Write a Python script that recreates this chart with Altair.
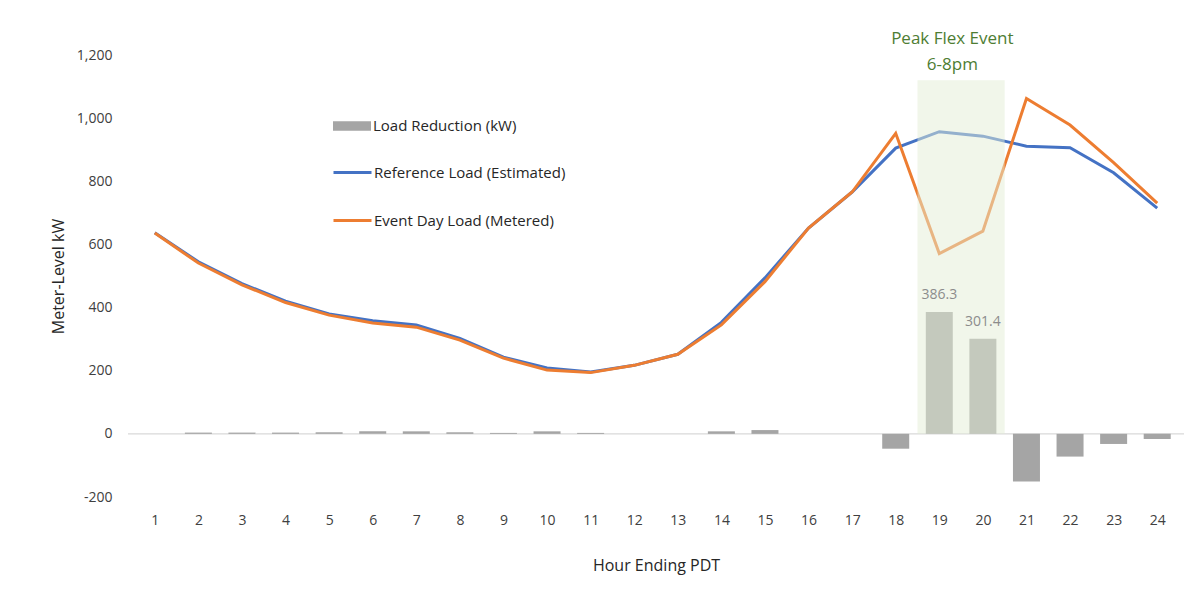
import altair as alt
import pandas as pd

# Hourly meter-level load (kW), hour ending 1..24 PDT
hours = list(range(1, 25))
reference_load = [637, 545, 476, 420, 380, 358, 345, 302, 243, 209, 196, 217,
                  252, 353, 494, 652, 766, 905, 957, 943, 911, 906, 827, 715]
event_load = [636, 541, 472, 416, 376, 351, 338, 297, 240, 202, 194, 217,
              252, 345, 482, 652, 766, 952, 571, 642, 1062, 978, 859, 731]
load_reduction = [0, 4, 4, 4, 5, 8, 8, 5, 3, 8, 3, 0,
                  0, 8, 12, 0, 0, -47, 386.3, 301.4, -151, -72, -32, -16]

# Peak Flex event window (hours 19-20, i.e. 6-8pm)
event_hours = [19, 20]
event_label = ["Peak Flex Event", "6-8pm"]

SERIES_RED = "Load Reduction (kW)"
SERIES_REF = "Reference Load (Estimated)"
SERIES_EVT = "Event Day Load (Metered)"

FONT = "Open Sans"

bars_df = pd.DataFrame({"hour": hours, "kw": load_reduction, "series": SERIES_RED})
ref_df = pd.DataFrame({"hour": hours, "kw": reference_load, "series": SERIES_REF})
evt_df = pd.DataFrame({"hour": hours, "kw": event_load, "series": SERIES_EVT})
labels_df = bars_df[bars_df["hour"].isin(event_hours)]
window_df = pd.DataFrame({"start": [min(event_hours) - 0.5],
                          "end": [max(event_hours) + 0.5],
                          "top": [1120], "bottom": [0]})
note_df = pd.DataFrame({"hour": [sum(event_hours) / 2 - 0.2], "kw": [1250],
                        "text": [event_label]})

x_scale = alt.Scale(domain=[0.5, 24.5], nice=False, zero=False)
y_scale = alt.Scale(domain=[-200, 1200], nice=False)

x_enc = alt.X("hour:Q", scale=x_scale,
              axis=alt.Axis(values=hours, title="Hour Ending PDT", grid=False,
                            domain=False, ticks=False, labelPadding=16,
                            titlePadding=30, format="d"))
y_enc = alt.Y("kw:Q", scale=y_scale,
              axis=alt.Axis(values=list(range(-200, 1201, 200)),
                            labelExpr="replace(format(datum.value, ',.0f'), '\u2212', '-')",
                            title="Meter-Level kW", grid=False, domain=False,
                            ticks=False, labelPadding=16, titlePadding=10))

zero_line = alt.Chart(pd.DataFrame({"kw": [0]})).mark_rule(
    color="#d9d9d9", strokeWidth=1.2
).encode(y=alt.Y("kw:Q", scale=y_scale))

bars = alt.Chart(bars_df).mark_bar(size=27).encode(
    x=x_enc,
    y=y_enc,
    fill=alt.Fill(
        "series:N",
        scale=alt.Scale(domain=[SERIES_RED], range=["#a5a5a5"]),
        legend=alt.Legend(
            orient="none", legendX=204, legendY=51, title=None,
            symbolType="M-1,-0.25H1V0.25H-1Z", symbolSize=1444,
            symbolOpacity=1, labelOffset=1, labelFontSize=15,
            labelFont=FONT, labelColor="#262626", labelLimit=320, padding=0,
        ),
    ),
)

stroke_scale = alt.Scale(domain=[SERIES_REF, SERIES_EVT],
                         range=["#4472C4", "#ED7D31"])
line_legend = alt.Legend(
    orient="none", legendX=204, legendY=97, title=None,
    symbolType="stroke", symbolSize=1444, symbolStrokeWidth=3,
    labelOffset=1, labelFontSize=15, labelFont=FONT, labelColor="#262626",
    labelLimit=320, rowPadding=19, padding=0,
)

ref_line = alt.Chart(ref_df).mark_line(strokeWidth=3).encode(
    x=x_enc, y=y_enc,
    stroke=alt.Stroke("series:N", scale=stroke_scale, legend=line_legend),
)
evt_line = alt.Chart(evt_df).mark_line(strokeWidth=3).encode(
    x=x_enc, y=y_enc,
    stroke=alt.Stroke("series:N", scale=stroke_scale, legend=line_legend),
)

window = alt.Chart(window_df).mark_rect(color="#e3edd6", opacity=0.5).encode(
    x=alt.X("start:Q", scale=x_scale),
    x2="end:Q",
    y=alt.Y("top:Q", scale=y_scale),
    y2="bottom:Q",
)

value_labels = alt.Chart(labels_df).mark_text(
    font=FONT, fontSize=14, color="#8c8c8c", baseline="middle", dy=-17
).encode(x=alt.X("hour:Q", scale=x_scale), y=alt.Y("kw:Q", scale=y_scale),
         text=alt.Text("kw:Q", format=".1f"))

event_note = alt.Chart(note_df).mark_text(
    font=FONT, fontSize=17, color="#4e7d33", baseline="middle", lineHeight=26,
    align="center"
).encode(x=alt.X("hour:Q", scale=x_scale), y=alt.Y("kw:Q", scale=y_scale),
         text="text")

chart = alt.layer(
    zero_line, bars, ref_line, evt_line, window, value_labels, event_note
).properties(
    width=1056, height=442,
    autosize=alt.AutoSizeParams(type="none"),
    padding={"left": 128, "top": 55, "right": 15, "bottom": 115},
    background="white",
).configure_view(stroke=None).configure_axis(
    labelFont=FONT, labelFontSize=14, labelColor="#404040",
    titleFont=FONT, titleFontSize=16, titleColor="#262626",
    titleFontWeight="normal",
)

chart.save("out.html", embed_options={"renderer": "svg", "actions": False})
